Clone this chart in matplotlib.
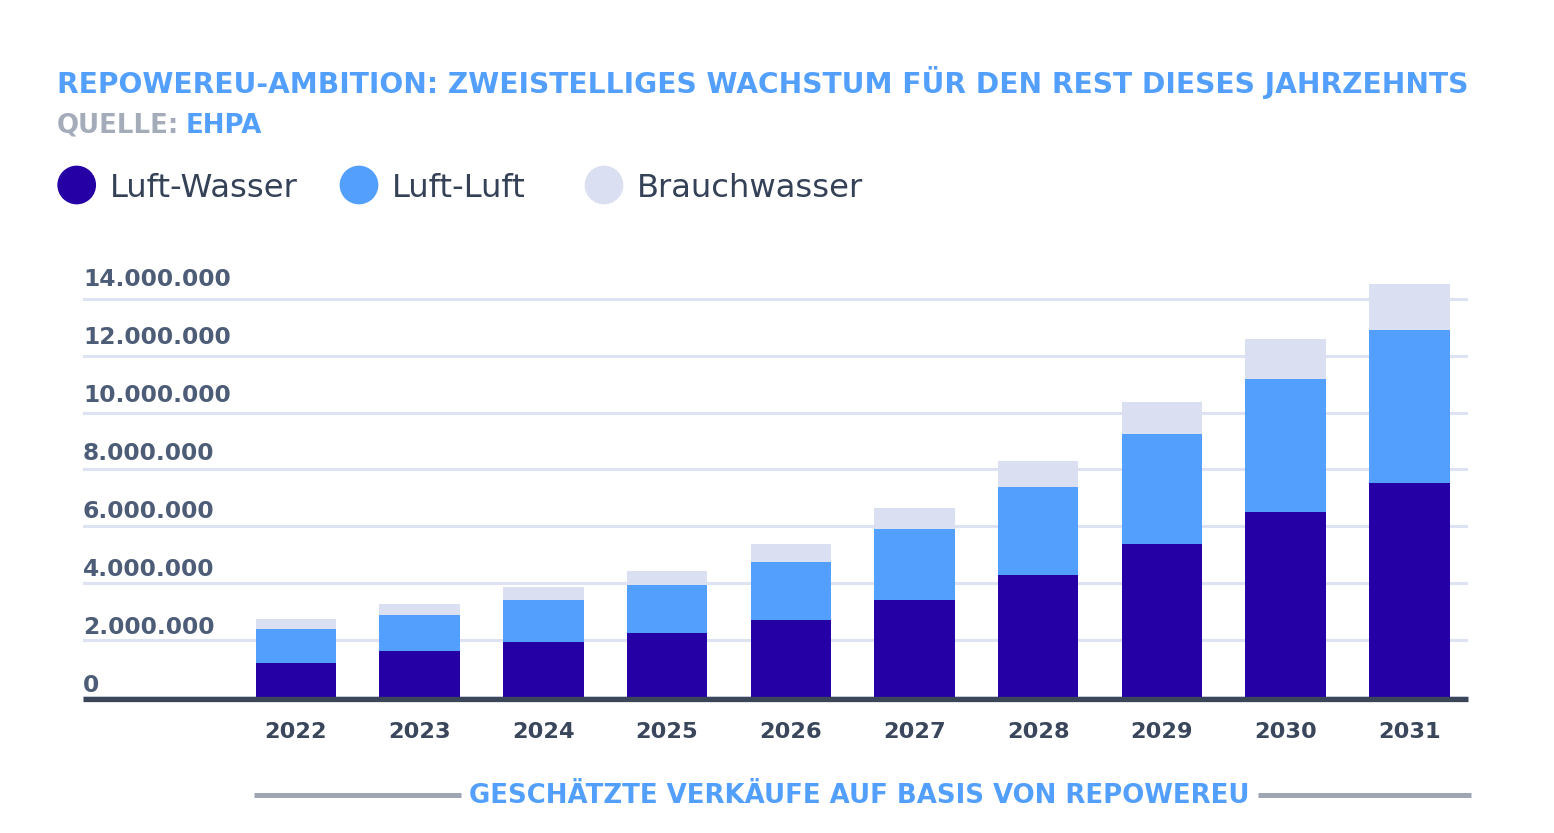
import matplotlib
matplotlib.use("Agg")
import matplotlib.pyplot as plt
from matplotlib.font_manager import FontProperties
from matplotlib.textpath import TextPath
from matplotlib.patches import Ellipse
from matplotlib.lines import Line2D
from matplotlib.transforms import blended_transform_factory, offset_copy

# ---------------- data ----------------
years = ["2022", "2023", "2024", "2025", "2026", "2027", "2028", "2029", "2030", "2031"]
luft_wasser = [1.18e6, 1.63e6, 1.93e6, 2.24e6, 2.72e6, 3.41e6, 4.29e6, 5.37e6, 6.51e6, 7.52e6]
luft_luft = [1.20e6, 1.25e6, 1.48e6, 1.70e6, 2.04e6, 2.48e6, 3.09e6, 3.87e6, 4.68e6, 5.39e6]
brauchwasser = [0.36e6, 0.39e6, 0.46e6, 0.50e6, 0.62e6, 0.75e6, 0.93e6, 1.14e6, 1.38e6, 1.61e6]
series_names = ["Luft-Wasser", "Luft-Luft", "Brauchwasser"]
y_ticks = [0, 2e6, 4e6, 6e6, 8e6, 10e6, 12e6, 14e6]
y_tick_labels = ["0", "2.000.000", "4.000.000", "6.000.000", "8.000.000",
                 "10.000.000", "12.000.000", "14.000.000"]
title = "REPOWEREU-AMBITION: ZWEISTELLIGES WACHSTUM FÜR DEN REST DIESES JAHRZEHNTS"
source_label = "QUELLE:"
source_name = "EHPA"
x_caption = "GESCHÄTZTE VERKÄUFE AUF BASIS VON REPOWEREU"

# ---------------- style ----------------
C_LW = "#2400a5"
C_LL = "#539ffd"
C_BW = "#dae0f1"
C_TITLE = "#539ffd"
C_GREY = "#a4acba"
C_LEG = "#344157"
C_TICK = "#4d5d78"
C_YEAR = "#39465b"
C_GRID = "#dde3f3"
C_AXIS = "#3b4759"
C_RULE = "#9ea6b3"
FAMILY = "DejaVu Sans"

W, H = 1554, 833
DPI = 100
fig = plt.figure(figsize=(W / DPI, H / DPI), dpi=DPI)
fig.patch.set_facecolor("white")


def fx(px):
    return px / W


def fy(py):
    return 1 - py / H


def fit_size(text, weight, target_px):
    fp = FontProperties(family=FAMILY, weight=weight)
    w_units = TextPath((0, 0), text, size=10, prop=fp).get_extents().width
    return target_px * 10 * 72 / (DPI * w_units)


def ftext(x, y, s, size, weight, color, ha="left"):
    return fig.text(fx(x), fy(y), s, fontsize=size, fontweight=weight, family=FAMILY,
                    color=color, ha=ha, va="baseline")


# ---------------- axes ----------------
px_per_unit = 56.9 / 2e6
y0_px = 697
ymax = 15e6
ax_h_px = ymax * px_per_unit
ax_left, ax_right = 83, 1468
ax = fig.add_axes([fx(ax_left), fy(y0_px), (ax_right - ax_left) / W, ax_h_px / H])
ax.set_facecolor("none")

x = list(range(len(years)))
spacing = 123.7
ax.set_xlim((ax_left - 296) / spacing, (ax_right - 296) / spacing)
ax.set_ylim(0, ymax)

bw = 0.65
bottom2 = [a + b for a, b in zip(luft_wasser, luft_luft)]
ax.bar(x, luft_wasser, width=bw, color=C_LW, linewidth=0, zorder=2)
ax.bar(x, luft_luft, width=bw, bottom=luft_wasser, color=C_LL, linewidth=0, zorder=2)
ax.bar(x, brauchwasser, width=bw, bottom=bottom2, color=C_BW, linewidth=0, zorder=2)

ax.set_yticks(y_ticks)
ax.yaxis.grid(True, color=C_GRID, linewidth=2.2, zorder=0)
ax.set_axisbelow(True)
ax.tick_params(axis="both", length=0, labelleft=False, labelbottom=False)
ax.set_xticks([])
for sp in ax.spines.values():
    sp.set_visible(False)
base = ax.axhline(0, color=C_AXIS, linewidth=3.8, zorder=3, solid_capstyle="butt")
base.set_clip_on(False)
base.set_transform(offset_copy(ax.transData, fig=fig, x=0, y=-1.5, units="dots"))
base.set_xdata([0, 1])
base.set_transform(offset_copy(blended_transform_factory(ax.transAxes, ax.transData),
                               fig=fig, x=0, y=-1.5, units="dots"))

# y tick labels above grid lines
tick_size = fit_size("14.000.000", "bold", 149)
tick_size = min(tick_size, 16.8)
blend = blended_transform_factory(ax.transAxes, ax.transData)
for k, (v, lab) in enumerate(zip(y_ticks, y_tick_labels)):
    tr = offset_copy(blend, fig=fig, x=0, y=5.3 + 1.1 * k, units="dots")
    ax.text(0, v, lab, transform=tr, fontsize=tick_size, fontweight="bold", family=FAMILY,
            color=C_TICK, ha="left", va="baseline")

# year labels
blend_x = blended_transform_factory(ax.transData, ax.transAxes)
tr_year = offset_copy(blend_x, fig=fig, x=0, y=-(738.3 - y0_px), units="dots")
for xi, yr in zip(x, years):
    ax.text(xi, 0, yr, transform=tr_year, fontsize=16.2, fontweight="bold", family=FAMILY,
            color=C_YEAR, ha="center", va="baseline")

# ---------------- header ----------------
t_size = fit_size(title, "bold", 1467 - 58)
ftext(57, 92.7, title, t_size, "bold", C_TITLE)

s_size = fit_size(source_label, "bold", 176 - 58)
ftext(57, 132.7, source_label, s_size, "bold", C_GREY)
ftext(186, 132.7, source_name, s_size, "bold", C_TITLE)

# legend
leg_targets = [297.3 - 111.7, 531.7 - 394, 848.3 - 639]
leg_fits = [fit_size(n, "normal", t) for n, t in zip(series_names, leg_targets)]
leg_size = sum(leg_fits) / len(leg_fits)
leg_items = [(76.7, 110, C_LW), (359, 392, C_LL), (604, 637, C_BW)]
for name, (cx, tx, col) in zip(series_names, leg_items):
    d = 38.7
    fig.add_artist(Ellipse((fx(cx), fy(185)), d / W, d / H, transform=fig.transFigure,
                           facecolor=col, edgecolor="none"))
    ftext(tx, 196.7, name, leg_size, "normal", C_LEG)

# ---------------- bottom caption ----------------
cap_size = fit_size(x_caption, "bold", 1248.3 - 470)
ftext(859, 803.3, x_caption, cap_size, "bold", C_TITLE, ha="center")
for xa, xb in [(254, 461), (1258, 1471)]:
    fig.add_artist(Line2D([fx(xa), fx(xb)], [fy(795.3), fy(795.3)], transform=fig.transFigure,
                          color=C_RULE, linewidth=3.6, solid_capstyle="butt"))

fig.savefig("out.png", dpi=DPI, facecolor="white")
